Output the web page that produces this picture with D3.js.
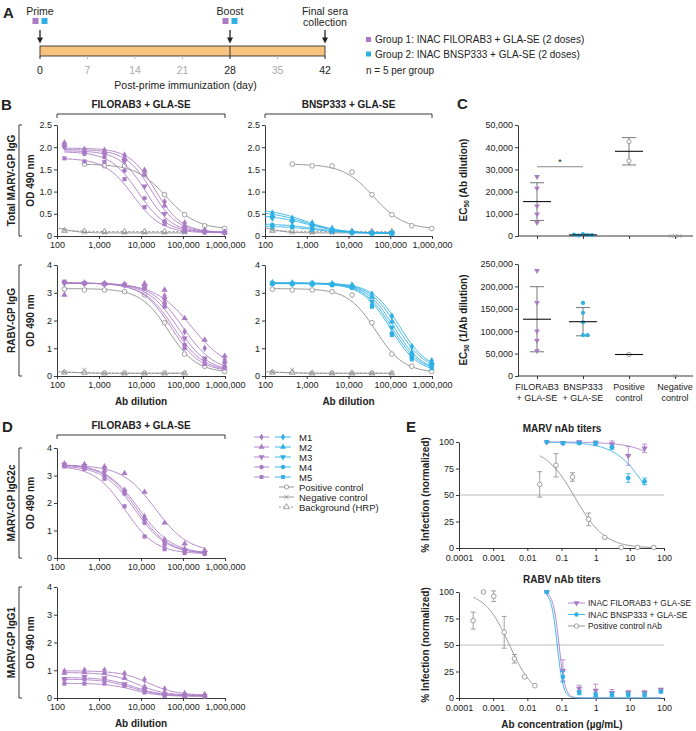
<!DOCTYPE html>
<html>
<head>
<meta charset="utf-8">
<script src="https://cdn.jsdelivr.net/npm/d3@7"></script>
<style>
  body { margin: 0; background: #fff; }
  svg { display: block; }
</style>
</head>
<body>
<svg id="fig" width="696" height="731"></svg>
<script>
// fig.js — immunization timeline (A), ELISA curves (B, D), EC50 scatter (C), nAb titers (E)

/* ── Panel A data ── */
const timelineDays = [0, 7, 14, 21, 28, 35, 42];
const keyDays = [0, 28, 42];
const eventDays = [0, 28, 42];
const eventLabels = [['Prime'], ['Boost'], ['Final sera', 'collection']];
const eventDoses = [true, true, false];
const groupNames = ['Group 1: INAC FILORAB3 + GLA-SE (2 doses)', 'Group 2: INAC BNSP333 + GLA-SE (2 doses)'];
const groupNote = 'n = 5 per group';

/* ── Panel B / D data: OD 490 nm at 3-fold serum dilutions ── */
const dilutions = [150, 450, 1350, 4050, 12150, 36450, 109350, 328050, 984150];
const dilutionTicks = [100, 1000, 10000, 100000, 1000000];
const mice = ['M1', 'M2', 'M3', 'M4', 'M5'];
const mouseShapes = ['diamond', 'tri', 'triDown', 'circle', 'square'];

// fit params: [bottom, top, EC50, hill]
const marvFiloOD = [
  [2.05, 1.95, 1.93, 1.82, 1.48, 0.77, 0.29, 0.13, 0.09],
  [2.10, 1.90, 1.88, 1.75, 1.38, 0.68, 0.23, 0.11, 0.08],
  [2.00, 1.88, 1.85, 1.68, 1.12, 0.50, 0.17, 0.10, 0.08],
  [2.02, 1.85, 1.78, 1.47, 0.85, 0.33, 0.13, 0.09, 0.08],
  [1.75, 1.68, 1.67, 1.28, 0.65, 0.27, 0.11, 0.08, 0.07],
];
const marvFiloFit = [[0.08, 1.98, 22000, 1.4], [0.08, 1.95, 18000, 1.4], [0.08, 1.92, 13000, 1.4], [0.08, 1.90, 8500, 1.3], [0.07, 1.75, 6500, 1.3]];

const marvBnspOD = [
  [0.51, 0.40, 0.29, 0.17, 0.10, 0.07, 0.07],
  [0.47, 0.36, 0.25, 0.14, 0.09, 0.07, 0.06],
  [0.40, 0.32, 0.23, 0.13, 0.08, 0.06, 0.06],
  [0.25, 0.22, 0.17, 0.11, 0.07, 0.06, 0.06],
  [0.21, 0.20, 0.14, 0.10, 0.07, 0.06, 0.06],
];
const marvBnspFit = [[0.06, 0.62, 900, 1], [0.06, 0.56, 900, 1], [0.06, 0.48, 1000, 1], [0.06, 0.28, 1500, 1], [0.06, 0.23, 1500, 1]];

const marvPosOD = [null, 1.62, 1.58, 1.58, 1.44, 0.93, 0.48, 0.23, 0.17];
const marvPosFit = [0.15, 1.62, 40000, 1.2];
const marvNegOD = [0.13, 0.08, 0.07, 0.07, 0.07, 0.07, 0.07];
const marvNegFit = [0.07, 0.25, 130, 2];
const marvBkgOD = [0.12, 0.11, 0.10, 0.10, 0.10, 0.10, 0.10];

const rabvFiloOD = [
  [3.35, 3.35, 3.33, 3.30, 3.28, 2.88, 1.60, 1.00, 0.58],
  [2.92, 3.35, 3.33, 3.30, 3.33, 3.10, 2.08, 1.30, 0.72],
  [3.35, 3.33, 3.32, 3.28, 3.22, 2.76, 1.36, 0.64, 0.46],
  [3.38, 3.33, 3.30, 3.27, 3.18, 2.62, 1.12, 0.58, 0.34],
  [3.40, 3.35, 3.32, 3.28, 3.15, 2.50, 1.00, 0.43, 0.28],
];
const rabvFiloFit = [[0.15, 3.35, 100000, 1.15], [0.2, 3.35, 160000, 1.0], [0.15, 3.35, 75000, 1.2], [0.15, 3.35, 60000, 1.2], [0.15, 3.35, 52000, 1.25]];

const rabvBnspOD = [
  [3.36, 3.35, 3.34, 3.32, 3.28, 2.95, 2.16, 1.06, 0.55],
  [3.35, 3.34, 3.33, 3.31, 3.25, 2.85, 1.96, 0.84, 0.48],
  [3.34, 3.33, 3.33, 3.30, 3.22, 2.68, 1.75, 0.72, 0.40],
  [3.33, 3.32, 3.32, 3.29, 3.20, 2.56, 1.54, 0.67, 0.34],
  [3.32, 3.31, 3.30, 3.28, 3.18, 2.50, 1.48, 0.60, 0.28],
];
const rabvBnspFit = [[0.2, 3.35, 170000, 1.3], [0.2, 3.35, 145000, 1.3], [0.15, 3.35, 125000, 1.3], [0.15, 3.34, 110000, 1.3], [0.12, 3.33, 100000, 1.3]];

const rabvPosOD = [3.13, 3.10, 3.10, 3.04, 2.92, 1.92, 0.79, 0.35, 0.16];
const rabvPosFit = [0.12, 3.15, 45000, 1.3];
const rabvNegOD = [0.14, 0.22, 0.10, 0.10, 0.10, 0.10, 0.10];
const rabvNegFit = [0.10, 0.16, 250, 2];
const rabvBkgOD = [0.13, 0.12, 0.10, 0.10, 0.10, 0.10, 0.10];

const igg2cOD = [
  [3.42, 3.40, 3.24, 2.46, 1.50, 0.66, 0.32, 0.20],
  [3.38, 3.36, 3.32, 3.08, 2.40, 1.28, 0.52, 0.28],
  [3.40, 3.35, 3.12, 2.40, 1.38, 0.56, 0.28, 0.18],
  [3.35, 3.30, 3.00, 2.34, 1.28, 0.48, 0.24, 0.16],
  [3.33, 3.24, 2.88, 1.88, 0.78, 0.32, 0.18, 0.15],
];
const igg2cFit = [[0.15, 3.42, 9000, 1.1], [0.2, 3.38, 22000, 1.1], [0.15, 3.40, 8000, 1.15], [0.15, 3.36, 7200, 1.15], [0.15, 3.35, 4200, 1.2]];

const igg1OD = [
  [0.96, 1.00, 1.00, 0.88, 0.66, 0.32, 0.16, 0.12],
  [0.90, 0.92, 0.90, 0.72, 0.40, 0.18, 0.11, 0.10],
  [0.68, 0.76, 0.72, 0.50, 0.30, 0.13, 0.09, 0.08],
  [0.68, 0.68, 0.66, 0.46, 0.25, 0.10, 0.08, 0.07],
  [0.52, 0.52, 0.52, 0.44, 0.20, 0.08, 0.07, 0.06],
];
const igg1Fit = [[0.10, 0.98, 15000, 1.3], [0.09, 0.92, 8000, 1.3], [0.08, 0.74, 6500, 1.3], [0.07, 0.68, 6000, 1.3], [0.06, 0.53, 6500, 1.4]];

/* ── Panel C data: EC50 per mouse ── */
const cCats = ['FILORAB3|+ GLA-SE', 'BNSP333|+ GLA-SE', 'Positive|control', 'Negative|control'];
const marvEc50Filo = [26700, 21500, 13500, 9800, 6000];
const marvEc50Bnsp = [900, 400, 200, 350, 600];
const marvEc50Pos = [42500, 33800];
const marvEc50Neg = [0, 0, 0];
const rabvEc50Filo = [235000, 163600, 100400, 78800, 55800];
const rabvEc50Bnsp = [163000, 141000, 120000, 91000, 91000];
const rabvEc50Pos = [48000];
const rabvEc50Neg = [0];

/* ── Panel E data: % infection vs Ab concentration (µg/mL) ── */
const concTicks = [0.0001, 0.001, 0.01, 0.1, 1, 10, 100];
const marvConc = [0.037, 0.11, 0.33, 1, 3, 9, 27];
const marvFiloInf = [100, 99, 100, 99, 98, 87, 94];
const marvFiloErr = [0, 1, 1, 2, 3, 9, 4];
const marvFiloInfFit = [0, 100, 500, 0.8];
const marvBnspInf = [100, 99, 99, 99, 95, 66, 63];
const marvBnspErr = [0, 1, 1, 1, 2, 4, 3];
const marvBnspInfFit = [0, 100, 40, 0.9];
const marvPosConc = [0.023, 0.069, 0.21, 0.62, 1.85, 5.6, 16.7, 50];
const marvPosInf = [60, 78, 67, 27, 10, 0.5, 0.5, 0.5];
const marvPosErr = [12, 11, 4, 6, 0, 0, 0, 0];
const marvPosInfFit = [0, 95, 0.25, 1];

const rabvConc = [0.037, 0.11, 0.33, 1, 3, 9, 27, 81];
const rabvFiloInf = [100, 26, 9, 7, 5, 5, 5, 8];
const rabvFiloErr = [1, 10, 3, 6, 3, 2, 2, 1];
const rabvFiloInfFit = [0, 100, 0.085, 5];
const rabvBnspInf = [100, 20, 5, 3, 3, 3, 3, 6];
const rabvBnspErr = [1, 5, 2, 2, 2, 2, 2, 1];
const rabvBnspInfFit = [0, 100, 0.075, 5];
const rabvPosConc = [0.00026, 0.00052, 0.00104, 0.0021, 0.0042, 0.0083, 0.0167];
const rabvPosInf = [73, 100, 96, 62, 37, 20, 11.6];
const rabvPosErr = [8, 0, 5, 15, 4, 0, 0];
const rabvPosInfFit = [0, 100, 0.003, 1.2];
const eLegend = ['INAC FILORAB3 + GLA-SE', 'INAC BNSP333 + GLA-SE', 'Positive control nAb'];

/* ── helpers ── */
const SANS = "'Liberation Sans', Arial, Helvetica, sans-serif";
const NARROW = "'Liberation Sans Narrow', 'Arial Narrow', 'Liberation Sans', Arial, sans-serif";
const PURPLE = '#a97bc4', CYAN = '#2fb0e4', GRAY = '#8a8a8a', INK = '#222';
const svg = d3.select('#fig').attr('font-family', SANS);

const SYM = {
  diamond: d3.symbolDiamond, tri: d3.symbolTriangle, triDown: d3.symbolTriangle,
  circle: d3.symbolCircle, square: d3.symbolSquare, openCircle: d3.symbolCircle,
  openTri: d3.symbolTriangle, times: d3.symbolTimes || d3.symbolCross,
};

function logistic(p, v) { return p[0] + (p[1] - p[0]) / (1 + Math.pow(v / p[2], p[3])); }

function marker(g, shape, cx, cy, color, size = 17) {
  const open = shape === 'openCircle' || shape === 'openTri' || shape === 'times';
  g.append('path')
    .attr('d', d3.symbol(SYM[shape], size)())
    .attr('transform', `translate(${cx},${cy})${shape === 'triDown' ? ' rotate(180)' : ''}`)
    .attr('fill', shape === 'times' ? 'none' : open ? '#fff' : color)
    .attr('stroke', open ? color : 'none')
    .attr('stroke-width', 0.8);
}

function txt(x, y, s, o = {}) {
  return svg.append('text').attr('x', x).attr('y', y).text(s)
    .attr('font-size', o.size || 9)
    .attr('font-weight', o.bold ? 'bold' : null)
    .attr('text-anchor', o.anchor || 'start')
    .attr('fill', o.fill || INK)
    .attr('font-family', o.family || null);
}

// rotated axis title; parts can hold {sub:'50'}
function yTitle(cx, cy, parts, size = 10) {
  const t = svg.append('text')
    .attr('transform', `translate(${cx + size * 0.36},${cy}) rotate(-90)`)
    .attr('text-anchor', 'middle').attr('font-size', size).attr('font-weight', 'bold').attr('fill', INK);
  let shifted = false;
  parts.forEach(p => {
    const sub = typeof p !== 'string';
    t.append('tspan').text(sub ? p.sub : p)
      .attr('font-size', sub ? size * 0.65 : null)
      .attr('dy', sub ? 2 : shifted ? -2 : null);
    shifted = sub;
  });
}

function styleAxis(sel) {
  sel.attr('font-family', SANS).attr('font-size', 9);
  sel.selectAll('path,line').attr('stroke', INK).attr('stroke-width', 0.9);
  sel.selectAll('text').attr('fill', INK);
}

function rowLabel(label, top, bottom) {
  yTitle(11, (top + bottom) / 2, [label], 10);
  svg.append('path').attr('d', `M22,${top}H19V${bottom}H22`)
    .attr('fill', 'none').attr('stroke', INK).attr('stroke-width', 0.9);
}

function colHeader(label, l, r, yLine) {
  svg.append('path').attr('d', `M${l},${yLine + 4}V${yLine}H${r}V${yLine + 4}`)
    .attr('fill', 'none').attr('stroke', INK).attr('stroke-width', 0.9);
  txt((l + r) / 2, yLine - 6, label, { size: 10, bold: true, anchor: 'middle' });
}

function panelLetter(x, y, s) { txt(x, y, s, { size: 15, bold: true }); }

/* generic dose-response panel (log x) */
function dosePanel(o) {
  const x = d3.scaleLog().domain(o.xDomain).range([o.left, o.right]);
  const y = d3.scaleLinear().domain(o.yDomain).range([o.bottom, o.top]);
  const g = svg.append('g');
  if (o.refY != null) {
    g.append('line').attr('x1', o.left).attr('x2', o.right).attr('y1', y(o.refY)).attr('y2', y(o.refY))
      .attr('stroke', '#a8a8a8').attr('stroke-width', 0.8);
  }
  g.append('g').attr('transform', `translate(0,${o.bottom})`)
    .call(d3.axisBottom(x).tickValues(o.xTicks).tickFormat(o.xFormat).tickSize(3).tickSizeOuter(0).tickPadding(o.xPad || 3))
    .call(styleAxis);
  g.append('g').attr('transform', `translate(${o.left},0)`)
    .call(d3.axisLeft(y).tickValues(o.yTicks).tickFormat(o.yFormat).tickSize(3).tickSizeOuter(0).tickPadding(2))
    .call(styleAxis);

  o.series.forEach(s => {
    const pts = s.y.map((v, i) => [s.x[i], v, s.err ? s.err[i] : 0]).filter(p => p[1] != null);
    let d;
    if (s.fit) {
      const [a, b] = s.span;
      const grid = d3.range(121).map(i => a * Math.pow(b / a, i / 120));
      d = d3.line().x(v => x(v)).y(v => y(logistic(s.fit, v)))(grid);
    } else {
      d = d3.line().x(p => x(p[0])).y(p => y(p[1]))(pts);
    }
    g.append('path').attr('d', d).attr('fill', 'none').attr('stroke', s.color)
      .attr('stroke-width', 0.9).attr('stroke-dasharray', s.dash || null);
    pts.forEach(p => {
      const px = x(p[0]), py = y(p[1]);
      if (p[2]) {
        const y1 = y(p[1] + p[2]), y2 = y(Math.max(0, p[1] - p[2]));
        g.append('path').attr('d', `M${px},${y1}V${y2}M${px - 2.5},${y1}H${px + 2.5}M${px - 2.5},${y2}H${px + 2.5}`)
          .attr('stroke', s.color).attr('stroke-width', 0.8).attr('fill', 'none');
      }
      marker(g, s.shape, px, py, s.color, s.size || 17);
    });
  });
  return { x, y };
}

/* ── Panel A ── */
panelLetter(3, 18, 'A');
const ax = d3.scaleLinear().domain([0, 42]).range([40, 325]);
const BAR_T = 46, BAR_B = 56;
svg.append('rect').attr('x', ax(0)).attr('y', BAR_T).attr('width', ax(42) - ax(0)).attr('height', BAR_B - BAR_T)
  .attr('fill', '#f8c27f').attr('stroke', '#333').attr('stroke-width', 0.9);
svg.append('line').attr('x1', ax(28)).attr('x2', ax(28)).attr('y1', BAR_T).attr('y2', BAR_B).attr('stroke', '#333');
timelineDays.forEach(d => {
  const key = keyDays.includes(d);
  svg.append('line').attr('x1', ax(d)).attr('x2', ax(d)).attr('y1', BAR_B).attr('y2', BAR_B + 3)
    .attr('stroke', key ? INK : '#bbb');
  txt(ax(d), 73.5, d, { anchor: 'middle', size: 10.5, fill: key ? INK : '#aaa', family: NARROW });
});
txt(ax(21) + 3, 89, 'Post-prime immunization (day)', { anchor: 'middle', size: 10.5, family: NARROW });
eventDays.forEach((day, i) => {
  const cx = ax(day);
  eventLabels[i].forEach((l, j) => txt(cx, 14.5 + j * 11.5, l, { anchor: 'middle', size: 10.5, family: NARROW }));
  if (eventDoses[i]) {
    svg.append('rect').attr('x', cx - 7.5).attr('y', 18).attr('width', 6).attr('height', 6).attr('fill', PURPLE);
    svg.append('rect').attr('x', cx + 1.5).attr('y', 18).attr('width', 6).attr('height', 6).attr('fill', CYAN);
  }
  svg.append('line').attr('x1', cx).attr('x2', cx).attr('y1', 30).attr('y2', 39).attr('stroke', INK).attr('stroke-width', 1.3);
  svg.append('path').attr('d', `M${cx - 3},${37.5}L${cx + 3},${37.5}L${cx},${43.5}Z`).attr('fill', INK);
});
groupNames.forEach((nm, i) => {
  svg.append('rect').attr('x', 366).attr('y', 37 + i * 14.5).attr('width', 5).attr('height', 5).attr('fill', i ? CYAN : PURPLE);
  txt(375, 43 + i * 14.5, nm, { size: 10, family: NARROW });
});
txt(366, 73.5, groupNote, { size: 10, family: NARROW });

/* ── Panel B ── */
panelLetter(1, 110, 'B');
const fmt1 = d => d === 0 ? '0' : d.toFixed(1);
const fmtInt = d3.format('d');
const fmtComma = d3.format(',');

function controlSeries(pos, posFit, posSpan, neg, negFit, bkg) {
  return [
    { x: dilutions, y: bkg, shape: 'openTri', color: GRAY, dash: '2,2', size: 14 },
    { x: dilutions, y: neg, shape: 'times', color: GRAY, fit: negFit, span: [100, 109350], size: 14 },
    { x: dilutions, y: pos, shape: 'openCircle', color: GRAY, fit: posFit, span: posSpan },
  ];
}
function mouseSeries(od, fits, color, span) {
  return od.map((vals, i) => ({ x: dilutions, y: vals, shape: mouseShapes[i], color, fit: fits[i], span }));
}

const bRows = [
  { label: 'Total MARV-GP IgG', top: 125, bottom: 236, yMax: 2.5, yTicks: [0, 0.5, 1, 1.5, 2, 2.5], yFmt: fmt1,
    ctrl: controlSeries(marvPosOD, marvPosFit, [450, 984150], marvNegOD, marvNegFit, marvBkgOD),
    cols: [mouseSeries(marvFiloOD, marvFiloFit, PURPLE, [150, 984150]), mouseSeries(marvBnspOD, marvBnspFit, CYAN, [100, 109350])] },
  { label: 'RABV-GP IgG', top: 265, bottom: 376, yMax: 4, yTicks: [0, 1, 2, 3, 4], yFmt: fmtInt,
    ctrl: controlSeries(rabvPosOD, rabvPosFit, [150, 984150], rabvNegOD, rabvNegFit, rabvBkgOD),
    cols: [mouseSeries(rabvFiloOD, rabvFiloFit, PURPLE, [150, 984150]), mouseSeries(rabvBnspOD, rabvBnspFit, CYAN, [150, 984150])] },
];
const bCols = [{ left: 57, right: 225, head: 'FILORAB3 + GLA-SE' }, { left: 265, right: 432, head: 'BNSP333 + GLA-SE' }];
bCols.forEach(c => colHeader(c.head, c.left, c.right, 114));

bRows.forEach((row, ri) => {
  rowLabel(row.label, row.top, row.bottom);
  yTitle(30, (row.top + row.bottom) / 2, ['OD 490 nm']);
  bCols.forEach((c, ci) => {
    dosePanel({
      left: c.left, right: c.right, top: row.top, bottom: row.bottom,
      xDomain: [100, 1000000], yDomain: [0, row.yMax], xTicks: dilutionTicks, xFormat: fmtComma,
      yTicks: row.yTicks, yFormat: row.yFmt, series: row.ctrl.concat(row.cols[ci]),
    });
    if (ri === 1) txt((c.left + c.right) / 2, 405, 'Ab dilution', { size: 10, bold: true, anchor: 'middle' });
  });
});

/* ── Panel C ── */
txt(457, 109, 'C', { size: 15, bold: true });
function swarmOffsets(pys, r) {
  const placed = [];
  return pys.map(py => {
    for (let k = 0; k < 40; k++) {
      const dx = k === 0 ? 0 : (k % 2 ? 1 : -1) * Math.ceil(k / 2) * r;
      if (placed.every(p => Math.hypot(p[0] - dx, p[1] - py) >= r)) { placed.push([dx, py]); return dx; }
    }
    return 0;
  });
}
function ec50Panel(o) {
  const x = d3.scalePoint().domain(cCats).range([537, 675]);
  const y = d3.scaleLinear().domain([0, o.yMax]).range([o.bottom, o.top]);
  const g = svg.append('g');
  g.append('g').attr('transform', 'translate(518,0)')
    .call(d3.axisLeft(y).tickValues(o.yTicks).tickFormat(fmtComma).tickSize(3).tickSizeOuter(0).tickPadding(2))
    .call(styleAxis);
  const xa = g.append('g').attr('transform', `translate(0,${o.bottom})`)
    .call(d3.axisBottom(x).tickSize(3).tickFormat('')).call(styleAxis);
  xa.select('.domain').remove();
  g.append('line').attr('x1', 518).attr('x2', 693).attr('y1', o.bottom).attr('y2', o.bottom).attr('stroke', INK).attr('stroke-width', 0.9);

  o.groups.forEach((vals, gi) => {
    const cx = x(cCats[gi]);
    const color = o.colors[gi], shape = o.shapes[gi];
    const mean = d3.mean(vals), sd = vals.length > 1 ? d3.deviation(vals) : 0;
    if (sd > 0 && mean > 0) {
      const y1 = y(mean + sd), y2 = y(Math.max(0, mean - sd));
      g.append('path').attr('d', `M${cx},${y1}V${y2}M${cx - 7},${y1}H${cx + 7}M${cx - 7},${y2}H${cx + 7}`)
        .attr('stroke', '#777').attr('stroke-width', 1).attr('fill', 'none');
    }
    const pys = vals.map(v => y(v));
    const offs = swarmOffsets(pys, 4.5);
    pys.forEach((py, i) => marker(g, shape, cx + offs[i], py, color, shape === 'times' ? 10 : 14));
    if (mean > 0) {
      g.append('line').attr('x1', cx - 14).attr('x2', cx + 14).attr('y1', y(mean)).attr('y2', y(mean))
        .attr('stroke', '#111').attr('stroke-width', 1.1);
    }
  });
  if (o.labels) {
    cCats.forEach(c => {
      const t = svg.append('text').attr('text-anchor', 'middle').attr('font-size', 9).attr('fill', INK);
      c.split('|').forEach((s, i) => t.append('tspan').attr('x', x(c)).attr('y', o.bottom + 14 + i * 11).text(s));
    });
  }
  return { x, y };
}
const cShapes = ['triDown', 'circle', 'openCircle', 'times'];
const cColors = [PURPLE, CYAN, GRAY, GRAY];
const cTop = ec50Panel({ top: 125, bottom: 236, yMax: 50000, yTicks: d3.range(0, 50001, 10000),
  groups: [marvEc50Filo, marvEc50Bnsp, marvEc50Pos, marvEc50Neg], shapes: cShapes, colors: cColors });
ec50Panel({ top: 264, bottom: 376, yMax: 250000, yTicks: d3.range(0, 250001, 50000),
  groups: [rabvEc50Filo, rabvEc50Bnsp, rabvEc50Pos, rabvEc50Neg], shapes: cShapes, colors: cColors, labels: true });
// significance bar FILORAB3 vs BNSP333
const sigY = cTop.y(31200);
svg.append('line').attr('x1', cTop.x(cCats[0])).attr('x2', cTop.x(cCats[1])).attr('y1', sigY).attr('y2', sigY)
  .attr('stroke', '#888').attr('stroke-width', 1);
txt((cTop.x(cCats[0]) + cTop.x(cCats[1])) / 2, sigY - 2, '*', { size: 9, anchor: 'middle' });
yTitle(463, 180, ['EC', { sub: '50' }, ' (Ab dilution)']);
yTitle(463, 320, ['EC', { sub: '50' }, ' (1/Ab dilution)']);

/* ── Panel D ── */
panelLetter(2, 432, 'D');
colHeader('FILORAB3 + GLA-SE', 57, 225, 435);
const dRows = [
  { label: 'MARV-GP IgG2c', top: 448, bottom: 558, od: igg2cOD, fit: igg2cFit },
  { label: 'MARV-GP IgG1', top: 587, bottom: 698, od: igg1OD, fit: igg1Fit },
];
dRows.forEach(row => {
  rowLabel(row.label, row.top, row.bottom);
  yTitle(30, (row.top + row.bottom) / 2, ['OD 490 nm']);
  dosePanel({
    left: 57, right: 225, top: row.top, bottom: row.bottom,
    xDomain: [100, 1000000], yDomain: [0, 4], xTicks: dilutionTicks, xFormat: fmtComma,
    yTicks: [0, 1, 2, 3, 4], yFormat: fmtInt,
    series: mouseSeries(row.od, row.fit, PURPLE, [150, 328050]),
  });
});
txt(141, 727, 'Ab dilution', { size: 10, bold: true, anchor: 'middle' });

// D legend
const dLegCtrl = [['Positive control', 'openCircle', null], ['Negative control', 'times', null], ['Background (HRP)', 'openTri', '2,2']];
mice.forEach((m, i) => {
  const yy = 437 + i * 10;
  [[254, 269, PURPLE], [275, 291, CYAN]].forEach(([a, b, col]) => {
    svg.append('line').attr('x1', a).attr('x2', b).attr('y1', yy).attr('y2', yy).attr('stroke', col).attr('stroke-width', 0.9);
    marker(svg, mouseShapes[i], (a + b) / 2, yy, col, 15);
  });
  txt(299, yy + 3.5, m, { size: 9.5 });
});
dLegCtrl.forEach(([lab, shape, dash], i) => {
  const yy = 487 + i * 10;
  svg.append('line').attr('x1', 279).attr('x2', 294).attr('y1', yy).attr('y2', yy).attr('stroke', GRAY)
    .attr('stroke-width', 0.9).attr('stroke-dasharray', dash);
  marker(svg, shape, 286.5, yy, GRAY, 15);
  txt(299, yy + 3.5, lab, { size: 9.5 });
});

/* ── Panel E ── */
panelLetter(406, 432, 'E');
const concFmt = d => String(d);
txt(562, 432, 'MARV nAb titers', { size: 10, bold: true, anchor: 'middle' });
dosePanel({
  left: 459, right: 664, top: 442, bottom: 548, refY: 50, xPad: 4,
  xDomain: [0.0001, 100], yDomain: [0, 100], xTicks: concTicks, xFormat: concFmt,
  yTicks: [0, 25, 50, 75, 100], yFormat: fmtInt,
  series: [
    { x: marvPosConc, y: marvPosInf, err: marvPosErr, shape: 'openCircle', color: GRAY, fit: marvPosInfFit, span: [0.023, 50] },
    { x: marvConc, y: marvFiloInf, err: marvFiloErr, shape: 'triDown', color: PURPLE, fit: marvFiloInfFit, span: [0.037, 27] },
    { x: marvConc, y: marvBnspInf, err: marvBnspErr, shape: 'circle', color: CYAN, fit: marvBnspInfFit, span: [0.037, 27] },
  ],
});
yTitle(425, 495, ['% Infection (normalized)']);

txt(562, 583, 'RABV nAb titers', { size: 10, bold: true, anchor: 'middle' });
dosePanel({
  left: 459, right: 664, top: 592, bottom: 698, refY: 50, xPad: 4,
  xDomain: [0.0001, 100], yDomain: [0, 100], xTicks: concTicks, xFormat: concFmt,
  yTicks: [0, 25, 50, 75, 100], yFormat: fmtInt,
  series: [
    { x: rabvPosConc, y: rabvPosInf, err: rabvPosErr, shape: 'openCircle', color: GRAY, fit: rabvPosInfFit, span: [0.00026, 0.0167] },
    { x: rabvConc, y: rabvFiloInf, err: rabvFiloErr, shape: 'triDown', color: PURPLE, fit: rabvFiloInfFit, span: [0.037, 81] },
    { x: rabvConc, y: rabvBnspInf, err: rabvBnspErr, shape: 'circle', color: CYAN, fit: rabvBnspInfFit, span: [0.037, 81] },
  ],
});
yTitle(425, 645, ['% Infection (normalized)']);
txt(562, 728, 'Ab concentration (µg/mL)', { size: 10, bold: true, anchor: 'middle' });

// E legend
[[PURPLE, 'triDown'], [CYAN, 'circle'], [GRAY, 'openCircle']].forEach(([col, shape], i) => {
  const yy = 603 + i * 11.5;
  svg.append('line').attr('x1', 568).attr('x2', 585).attr('y1', yy).attr('y2', yy).attr('stroke', col).attr('stroke-width', 0.9);
  marker(svg, shape, 576.5, yy, col, 15);
  txt(588, yy + 3.2, eLegend[i], { size: 8.4 });
});
</script>
</body>
</html>
